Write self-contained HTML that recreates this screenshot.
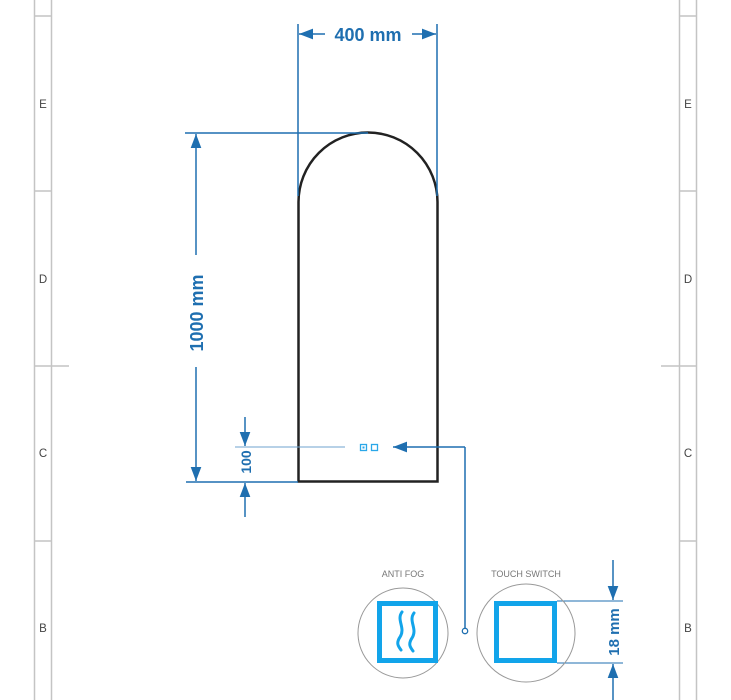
<!DOCTYPE html>
<html><head><meta charset="utf-8"><style>
html,body{margin:0;padding:0;background:#fff;}
svg{display:block}
text{font-family:"Liberation Sans",sans-serif}
</style></head><body>
<svg width="731" height="700" viewBox="0 0 731 700" xmlns="http://www.w3.org/2000/svg">
<defs>
<marker id="a" viewBox="0 0 10 10" refX="10" refY="5" markerWidth="14" markerHeight="14" markerUnits="userSpaceOnUse" orient="auto-start-reverse"><path d="M0,1.2 L10,5 L0,8.8z" fill="#1f6fb0"/></marker>
</defs>
<g stroke="#c4c4c4" stroke-width="1.5" fill="none">
<line x1="34.5" y1="0" x2="34.5" y2="700"/><line x1="51.5" y1="0" x2="51.5" y2="700"/>
<line x1="679.5" y1="0" x2="679.5" y2="700"/><line x1="696.5" y1="0" x2="696.5" y2="700"/>
<line x1="34" y1="16" x2="52" y2="16"/><line x1="34" y1="191" x2="52" y2="191"/><line x1="34" y1="541" x2="52" y2="541"/>
<line x1="34" y1="366" x2="69" y2="366"/>
<line x1="679" y1="16" x2="697" y2="16"/><line x1="679" y1="191" x2="697" y2="191"/><line x1="679" y1="541" x2="697" y2="541"/>
<line x1="661" y1="366" x2="697" y2="366"/>
</g>
<g font-size="11.5" fill="#444" text-anchor="middle">
<text x="43" y="108">E</text><text x="43" y="283">D</text><text x="43" y="457">C</text><text x="43" y="632">B</text>
<text x="688" y="108">E</text><text x="688" y="283">D</text><text x="688" y="457">C</text><text x="688" y="632">B</text>
</g>
<path d="M298.5,481.5 L298.5,202 A69.5,69.5 0 0 1 437.5,202 L437.5,481.5 Z" fill="none" stroke="#222" stroke-width="2.5"/>
<g stroke="#1f6fb0" stroke-width="1.5" fill="none">
<line x1="298" y1="24" x2="298" y2="196"/><line x1="437" y1="24" x2="437" y2="196"/>
<line x1="299" y1="34" x2="325" y2="34" marker-start="url(#a)"/>
<line x1="412" y1="34" x2="436" y2="34" marker-end="url(#a)"/>
<line x1="185" y1="133" x2="368" y2="133"/>
<line x1="186" y1="482" x2="298" y2="482"/>
<line x1="196" y1="134" x2="196" y2="255" marker-start="url(#a)"/>
<line x1="196" y1="367" x2="196" y2="481" marker-end="url(#a)"/>
<line x1="245" y1="417" x2="245" y2="446" marker-end="url(#a)"/>
<line x1="245" y1="517" x2="245" y2="483" marker-end="url(#a)"/>
<line x1="393" y1="447" x2="465" y2="447" marker-start="url(#a)"/>
<line x1="465" y1="447" x2="465" y2="628"/>
<line x1="557" y1="601" x2="623" y2="601" stroke-width="1"/>
<line x1="557" y1="663" x2="623" y2="663" stroke-width="1"/>
<line x1="613" y1="560" x2="613" y2="600" marker-end="url(#a)"/>
<line x1="613" y1="700" x2="613" y2="664" marker-end="url(#a)"/>
</g>
<line x1="235" y1="447" x2="345" y2="447" stroke="#6fa3cf" stroke-width="1"/>
<circle cx="465" cy="631" r="2.7" fill="#fff" stroke="#1f6fb0" stroke-width="1.3"/>
<g fill="#1f6fb0" font-weight="bold" text-anchor="middle">
<text x="368" y="41" font-size="18">400 mm</text>
<text transform="translate(203,313) rotate(-90)" font-size="18">1000 mm</text>
<text transform="translate(251,462) rotate(-90)" font-size="14">100</text>
<text transform="translate(619,632) rotate(-90)" font-size="15">18 mm</text>
</g>
<rect x="360.5" y="444.5" width="6" height="6" fill="none" stroke="#2aa7e8" stroke-width="1.3"/>
<rect x="362.5" y="446.5" width="2" height="2" fill="#2aa7e8"/>
<rect x="371.5" y="444.5" width="6" height="6" fill="none" stroke="#2aa7e8" stroke-width="1.3"/>
<circle cx="403" cy="633" r="45" fill="none" stroke="#999" stroke-width="1"/>
<circle cx="526" cy="633" r="49" fill="none" stroke="#999" stroke-width="1"/>
<rect x="379.5" y="603.5" width="56" height="57" fill="none" stroke="#12a4ea" stroke-width="5"/>
<rect x="496.5" y="603.5" width="58" height="57" fill="none" stroke="#12a4ea" stroke-width="5"/>
<path d="M402,612 C396,620 406,628 400,637 C396,643 398,646 401,650" fill="none" stroke="#12a4ea" stroke-width="3" stroke-linecap="round"/>
<path d="M414,613 C408,621 418,629 412,638 C408,644 410,647 413,651" fill="none" stroke="#12a4ea" stroke-width="3" stroke-linecap="round"/>
<g fill="#777" font-size="9" text-anchor="middle">
<text x="403" y="577">ANTI FOG</text>
<text x="526" y="577">TOUCH SWITCH</text>
</g>
</svg>
</body></html>
